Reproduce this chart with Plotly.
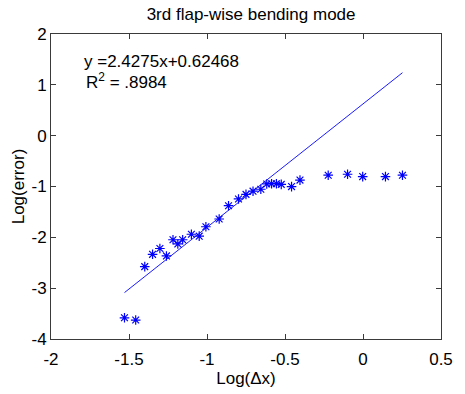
import plotly.graph_objects as go

# data
log_dx = [-1.529, -1.457, -1.399, -1.349, -1.302, -1.260, -1.218, -1.187, -1.156,
          -1.100, -1.050, -1.007, -0.922, -0.862, -0.798, -0.750, -0.705, -0.655,
          -0.617, -0.586, -0.555, -0.524, -0.458, -0.404, -0.223, -0.099, -0.002,
          0.144, 0.253]
log_err = [-3.583, -3.627, -2.576, -2.334, -2.220, -2.366, -2.048, -2.130, -2.048,
           -1.939, -1.977, -1.792, -1.639, -1.378, -1.245, -1.155, -1.092, -1.054,
           -0.950, -0.945, -0.945, -0.958, -1.002, -0.874, -0.778, -0.759, -0.805,
           -0.805, -0.778]
slope = 2.4275
intercept = 0.62468
r2_text = ".8984"
x_ticks = [-2, -1.5, -1, -0.5, 0, 0.5]
y_ticks = [-4, -3, -2, -1, 0, 1, 2]

fit_x = [min(log_dx), max(log_dx)]
fit_y = [slope * v + intercept for v in fit_x]

font = "Liberation Sans, Arial, sans-serif"
axis_col = "#3a3a3a"

fig = go.Figure()
fig.add_trace(go.Scatter(x=log_dx, y=log_err, mode="markers",
                         marker=dict(symbol="asterisk-open", size=8,
                                     color="#0000ff", line=dict(width=1.2, color="#0000ff")),
                         showlegend=False))
fig.add_trace(go.Scatter(x=fit_x, y=fit_y, mode="lines",
                         line=dict(color="#0000ff", width=0.9), showlegend=False))

fig.add_annotation(x=-1.8, y=1.45, xref="x", yref="y", xanchor="left", yanchor="middle",
                   text=f"y ={slope}x+{intercept}", showarrow=False,
                   font=dict(size=17, color="black", family=font))
fig.add_annotation(x=-1.79, y=1.07, xref="x", yref="y", xanchor="left", yanchor="middle",
                   text=f"R<sup>2</sup> = {r2_text}", showarrow=False,
                   font=dict(size=17, color="black", family=font))

fig.update_layout(
    width=465, height=394,
    margin=dict(l=51, r=12, t=34, b=46),
    paper_bgcolor="white", plot_bgcolor="white",
    font=dict(family=font, size=17, color="black"),
    title=dict(text="3rd flap-wise bending mode", x=0.54, xanchor="center",
               y=0.965, yanchor="middle", font=dict(size=17, color="black", family=font)),
    xaxis=dict(range=[-2, 0.5], tickvals=x_ticks, ticktext=[f"{v:g}" for v in x_ticks],
               ticks="inside", ticklen=5, tickcolor=axis_col, showline=True,
               linecolor=axis_col, linewidth=1, mirror="ticks", showgrid=False,
               ticklabelstandoff=5,
               zeroline=False, title=dict(text="Log(\u0394x)", standoff=1,
                                          font=dict(size=17))),
    yaxis=dict(range=[-4, 2], tickvals=y_ticks, ticktext=[f"{v:g}" for v in y_ticks],
               ticks="inside", ticklen=5, tickcolor=axis_col, showline=True,
               linecolor=axis_col, linewidth=1, mirror="ticks", showgrid=False,
               zeroline=False, title=dict(text="Log(error)", standoff=2,
                                          font=dict(size=17))),
)

fig.write_html("out.html")
